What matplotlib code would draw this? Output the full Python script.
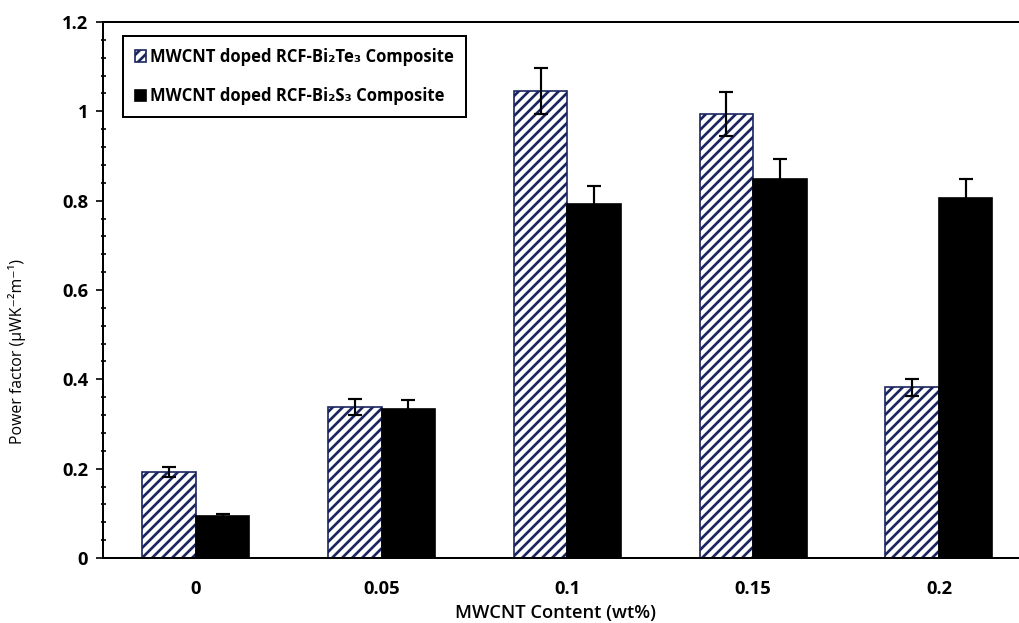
import matplotlib

matplotlib.use("Agg")
import matplotlib.pyplot as plt
import numpy as np

plt.rcParams["font.family"] = ["Open Sans", "DejaVu Sans"]
plt.rcParams["hatch.linewidth"] = 1.6
plt.rcParams["hatch.color"] = "#1b2560"

CONTENT = ["0", "0.05", "0.1", "0.15", "0.2"]
TE_LABEL = "MWCNT doped RCF-Bi₂Te₃ Composite"
S_LABEL = "MWCNT doped RCF-Bi₂S₃ Composite"
TE_PF = [0.193, 0.339, 1.045, 0.994, 0.382]
TE_ERR = [0.011, 0.018, 0.051, 0.049, 0.019]
S_PF = [0.093, 0.334, 0.792, 0.848, 0.807]
S_ERR = [0.005, 0.019, 0.040, 0.045, 0.041]

DPI = 120
fig = plt.figure(figsize=(1019 / DPI, 623 / DPI), dpi=DPI)
ax = fig.add_axes([0.1011, 0.1043, 0.9115, 0.8604])

x = np.arange(len(CONTENT))
w = 0.288
err_kw = dict(ecolor="black", elinewidth=1.3, capsize=4, capthick=1.3)
ax.bar(x - w / 2, TE_PF, w, yerr=TE_ERR, color="white", edgecolor="#1b2560",
       hatch="////", linewidth=1.0, label=TE_LABEL, error_kw=err_kw)
ax.bar(x + w / 2, S_PF, w, yerr=S_ERR, color="black", edgecolor="black",
       linewidth=1.0, label=S_LABEL, error_kw=err_kw)

ax.set_xlim(-0.5, 4.5)
ax.set_ylim(0, 1.2)
ax.set_xticks(x)
ax.set_xticklabels(CONTENT, fontweight="bold", fontsize=11)
ax.set_yticks(np.arange(0, 1.21, 0.2))
ax.set_yticklabels(["0", "0.2", "0.4", "0.6", "0.8", "1", "1.2"],
                   fontweight="bold", fontsize=11)
ax.set_yticks(np.arange(0, 1.2, 0.04), minor=True)
ax.tick_params(axis="x", length=0, pad=13)
ax.tick_params(axis="y", which="major", length=4, width=1, direction="out", pad=5)
ax.tick_params(axis="y", which="minor", length=3, width=1, direction="inout")

for s in ax.spines.values():
    s.set_linewidth(1.2)

ax.set_xlabel("MWCNT Content (wt%)", fontsize=11, fontweight="semibold")
ax.xaxis.set_label_coords(0.487, -0.086)
ax.set_ylabel("Power factor (µWK⁻²m⁻¹)", fontsize=9.5)
ax.yaxis.set_label_coords(-0.083, 0.386)

leg = ax.legend(loc="upper left", bbox_to_anchor=(0.0215, 0.974), borderaxespad=0,
                prop={"weight": "bold", "size": 10}, handlelength=0.7, handleheight=0.7,
                handletextpad=0.25, labelspacing=1.3, borderpad=0.7,
                fancybox=False, framealpha=1, edgecolor="black")
leg.get_frame().set_linewidth(1.2)

fig.savefig("out.png", dpi=DPI)
